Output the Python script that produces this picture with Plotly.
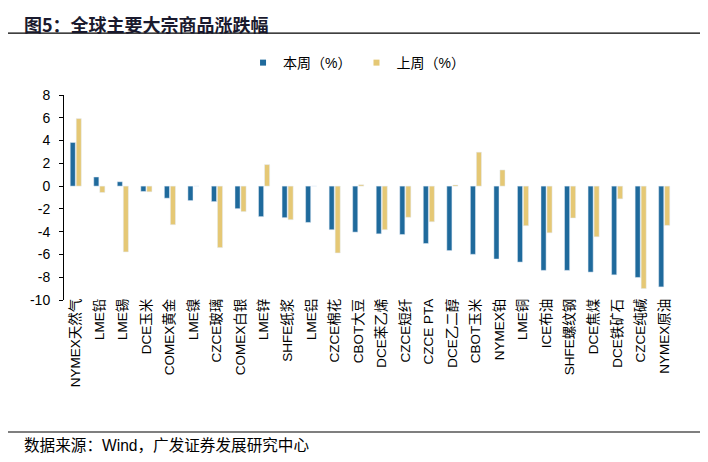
import plotly.graph_objects as go

categories = ["NYMEX天然气", "LME铅", "LME锡", "DCE玉米", "COMEX黄金", "LME镍", "CZCE玻璃",
              "COMEX白银", "LME锌", "SHFE纸浆", "LME铝", "CZCE棉花", "CBOT大豆", "DCE苯乙烯",
              "CZCE短纤", "CZCE PTA", "DCE乙二醇", "CBOT玉米", "NYMEX铂", "LME铜", "ICE布油",
              "SHFE螺纹钢", "DCE焦煤", "DCE铁矿石", "CZCE纯碱", "NYMEX原油"]
this_week = [3.83, 0.8, 0.38, -0.47, -1.06, -1.27, -1.36, -1.98, -2.68, -2.77, -3.19, -3.83, -4.04,
             -4.19, -4.25, -5.04, -5.66, -5.99, -6.4, -6.67, -7.4, -7.4, -7.55, -7.79, -8.02, -8.85]
last_week = [5.93, -0.56, -5.78, -0.5, -3.39, 0.0, -5.4, -2.24, 1.89, -2.95, 0.0, -5.87, 0.12,
             -3.83, -2.74, -3.13, 0.1, 2.98, 1.42, -3.48, -4.1, -2.8, -4.45, -1.12, -9.0, -3.45]
y_ticks = [8, 6, 4, 2, 0, -2, -4, -6, -8, -10]
series_names = ["本周（%）", "上周（%）"]

BLUE = "#1f6a9c"
GOLD = "#e5c875"
FONT = "Liberation Sans, Arial, Noto Sans CJK SC"

fig = go.Figure()
fig.add_trace(go.Bar(x=categories, y=this_week, name=series_names[0], marker_color=BLUE,
                     showlegend=False))
fig.add_trace(go.Bar(x=categories, y=last_week, name=series_names[1], marker_color=GOLD,
                     showlegend=False))
# legend entries with small square symbols, as in the reference
fig.add_trace(go.Scatter(x=[None], y=[None], mode="markers", name=series_names[0],
                         marker=dict(symbol="square", size=6, color=BLUE)))
fig.add_trace(go.Scatter(x=[None], y=[None], mode="markers", name=series_names[1],
                         marker=dict(symbol="square", size=6, color=GOLD)))

n = len(categories)
boundaries = [i - 0.5 for i in range(n + 1)]
ymin, ymax = -10, 8
zero_frac = (0 - ymin) / (ymax - ymin)

fig.update_layout(
    width=700, height=454,
    margin=dict(l=56, r=32, t=87, b=162),
    paper_bgcolor="white", plot_bgcolor="white",
    font=dict(family=FONT, size=12, color="#000"),
    barmode="group", bargap=0.49, bargroupgap=0.15,
    showlegend=True,
    legend=dict(orientation="h", x=0.478, xanchor="center", y=1.156, yanchor="middle",
                font=dict(family=FONT, size=14), itemwidth=30, traceorder="normal",
                tracegroupgap=0, bgcolor="rgba(0,0,0,0)"),
    xaxis=dict(type="category", categoryorder="array", categoryarray=categories,
               range=[-0.5, n - 0.5], showline=False, ticks="", tickangle=-90,
               ticklabelstandoff=-5,
               tickfont=dict(family=FONT, size=13.5), showgrid=False, zeroline=False),
    xaxis2=dict(overlaying="x", anchor="free", position=zero_frac, type="linear",
                range=[-0.5, n - 0.5], tickmode="array", tickvals=boundaries,
                showticklabels=False, ticks="outside", ticklen=4, tickcolor="#000",
                showline=True, linecolor="#000", linewidth=1, showgrid=False, zeroline=False),
    yaxis=dict(range=[ymin, ymax], tickmode="array", tickvals=y_ticks,
               ticktext=[str(v) for v in y_ticks],
               ticks="outside", ticklen=4, tickcolor="#000", showline=True,
               linecolor="#000", linewidth=1, showgrid=False, zeroline=False,
               ticklabelstandoff=6,
               tickfont=dict(family=FONT, size=14)),
)

fig.add_annotation(text="<b>图5：全球主要大宗商品涨跌幅</b>", xref="paper", yref="paper",
                   x=-0.068, y=1.418, xanchor="left", yanchor="top", showarrow=False,
                   font=dict(family="Noto Sans CJK SC", size=18, color="#1a1a2e"))
fig.add_shape(type="line", xref="paper", yref="paper", x0=-0.092, x1=1.04, y0=1.302, y1=1.302,
              line=dict(color="#000", width=1.2))
fig.add_shape(type="line", xref="paper", yref="paper", x0=-0.092, x1=1.04, y0=-0.644, y1=-0.644,
              line=dict(color="#000", width=1.2))
fig.add_annotation(text="数据来源：Wind，广发证券发展研究中心", xref="paper", yref="paper",
                   x=-0.068, y=-0.712, xanchor="left", yanchor="middle", showarrow=False,
                   font=dict(family=FONT, size=15.6, color="#000"))

fig.write_html("out.html")
